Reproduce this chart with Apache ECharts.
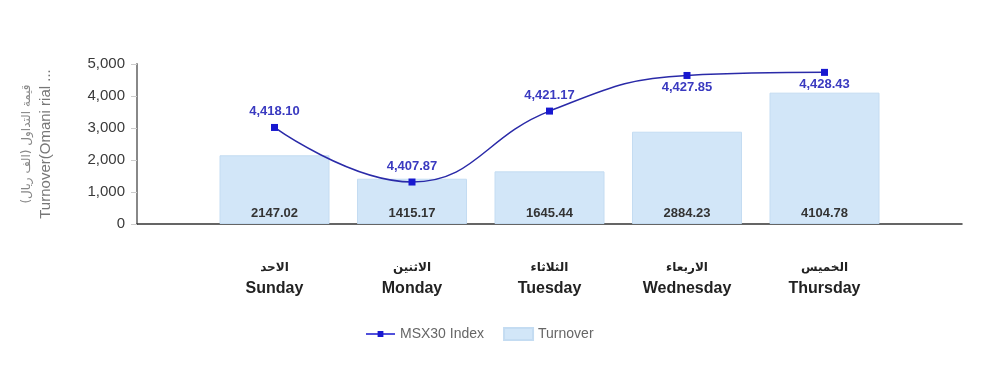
<!DOCTYPE html>
<html><head><meta charset="utf-8">
<script src="https://cdn.jsdelivr.net/npm/echarts@6/dist/echarts.min.js"></script>
<style>html,body{margin:0;padding:0;background:#fff}#c{width:1000px;height:372px}</style>
</head><body><div id="c"></div>
<script>
const daysEn = ['Sunday', 'Monday', 'Tuesday', 'Wednesday', 'Thursday'];
const daysAr = ['الاحد', 'الاثنين', 'الثلاثاء', 'الاربعاء', 'الخميس'];
const turnover = [2147.02, 1415.17, 1645.44, 2884.23, 4104.78];
const msx30 = [4418.10, 4407.87, 4421.17, 4427.85, 4428.43];
const yTicks = [0, 1000, 2000, 3000, 4000, 5000];
const lineLabelBelow = [false, false, false, true, true];
const yNameAr = 'قيمة التداول (الف ريال)';
const yNameEn = 'Turnover(Omani rial ...';

// padded category axis: one empty slot each side
const cats = [''].concat(daysEn.map((d, i) => i)).concat(['']);
const pad = arr => ['-'].concat(arr).concat(['-']);

const chart = echarts.init(document.getElementById('c'));
const font = '"Liberation Sans", Arial, "DejaVu Sans", sans-serif';
chart.setOption({
  animation: false,
  textStyle: { fontFamily: font },
  grid: { left: 137, right: 38, top: 64, bottom: 148 },
  legend: {
    left: 361, top: 322, itemGap: 19, itemWidth: 29, itemHeight: 12,
    textStyle: { color: '#666', fontSize: 14, fontFamily: font },
    data: [
      { name: 'MSX30 Index', icon: 'path://M0,5.2 L12,5.2 L12,3 L18,3 L18,5.2 L30,5.2 L30,6.8 L18,6.8 L18,9 L12,9 L12,6.8 L0,6.8 Z' },
      { name: 'Turnover', icon: 'rect' }
    ]
  },
  xAxis: {
    type: 'category', data: cats, boundaryGap: false,
    axisLine: { lineStyle: { color: '#333', width: 1.5 } },
    axisTick: { show: false },
    axisLabel: {
      margin: 33, interval: 0,
      formatter: v => v === '' ? '' : '{ar|' + daysAr[v] + '}\n{en|' + daysEn[v] + '}',
      rich: {
        ar: { fontSize: 12, fontWeight: 'bold', color: '#222', lineHeight: 21, fontFamily: '"DejaVu Sans", sans-serif' },
        en: { fontSize: 16, fontWeight: 'bold', color: '#222', lineHeight: 22, fontFamily: font }
      }
    }
  },
  yAxis: [{
    type: 'value', min: yTicks[0], max: yTicks[yTicks.length - 1], interval: 1000,
    name: '{ar|' + yNameAr + '}\n{en|' + yNameEn + '}',
    nameLocation: 'middle', nameRotate: 90, nameGap: 82,
    nameTextStyle: {
      color: '#777', fontFamily: font,
      rich: {
        ar: { fontSize: 12, lineHeight: 19, color: '#888', fontFamily: '"DejaVu Sans", sans-serif' },
        en: { fontSize: 15, lineHeight: 19, color: '#777', fontFamily: font }
      }
    },
    axisLine: { show: true, lineStyle: { color: '#888', width: 2 } },
    axisTick: { show: true, length: 6, lineStyle: { color: '#ccc' } },
    splitLine: { show: false },
    axisLabel: { color: '#3a3a3a', fontSize: 15, margin: 12, formatter: v => v.toLocaleString('en-US') }
  }, {
    type: 'value', min: 4400, max: 4430, show: false, splitLine: { show: false }
  }],
  series: [{
    name: 'Turnover', type: 'bar', data: pad(turnover), barWidth: 110, z: 1,
    itemStyle: { color: '#d2e6f8', borderColor: '#c4dcf2', borderWidth: 1 },
    label: {
      show: true, position: 'insideBottom', distance: 4, color: '#333',
      fontWeight: 'bold', fontSize: 13, formatter: p => p.value.toFixed(2)
    }
  }, {
    name: 'MSX30 Index', type: 'line', yAxisIndex: 1, smooth: 0.45, z: 3,
    data: pad(msx30).map((v, i) => v === '-' ? '-' : {
      value: v,
      label: lineLabelBelow[i - 1] ? { position: 'bottom', distance: 2 } : { position: 'top', distance: 6 }
    }),
    symbol: 'rect', symbolSize: 7, showAllSymbol: true,
    lineStyle: { color: '#2a2aa8', width: 1.5 },
    itemStyle: { color: '#1818d0' },
    label: {
      show: true, color: '#3a3ac0', fontWeight: 'bold', fontSize: 13,
      formatter: p => p.value.toLocaleString('en-US', { minimumFractionDigits: 2, maximumFractionDigits: 2 })
    }
  }]
});
</script></body></html>
